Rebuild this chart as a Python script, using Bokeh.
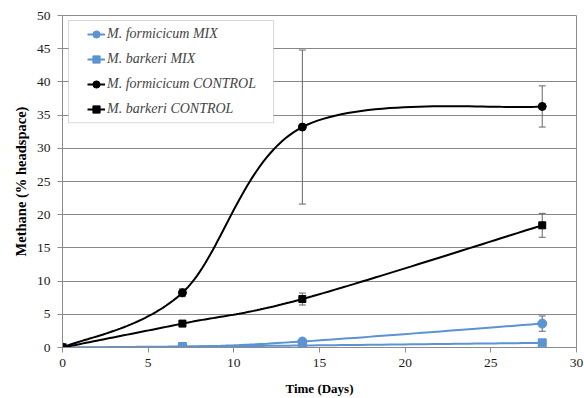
import numpy as np
from bokeh.plotting import figure
from bokeh.models import (ColumnDataSource, Whisker, TeeHead, SingleIntervalTicker,
                          Range1d, Legend, LegendItem, BoxAnnotation)
from bokeh.embed import file_html
from bokeh.resources import INLINE

days = [0, 7, 14, 28]
series_names = ["M. formicicum MIX", "M. barkeri MIX",
                "M. formicicum CONTROL", "M. barkeri CONTROL"]
form_mix = [0.0, 0.1, 0.9, 3.6]
form_mix_err = [0.0, 0.0, 0.0, 1.15]
bark_mix = [0.0, 0.15, 0.3, 0.7]
bark_mix_err = [0.0, 0.0, 0.0, 0.0]
form_ctrl = [0.0, 8.25, 33.2, 36.3]
form_ctrl_err = [0.0, 0.6, 11.6, 3.1]
bark_ctrl = [0.0, 3.6, 7.3, 18.4]
bark_ctrl_err = [0.0, 0.2, 0.9, 1.8]

BLUE = "#5b93d3"
BLACK = "#000000"
FONT = "Liberation Serif"


def smooth(xs, ys, n=40):
    """Excel-like smoothed line (Catmull-Rom Bezier through the data points)."""
    pts = np.column_stack([xs, ys]).astype(float)
    out = [pts[0]]
    m = len(pts)
    for i in range(m - 1):
        p0 = pts[i - 1] if i > 0 else pts[i]
        p1 = pts[i]
        p2 = pts[i + 1]
        p3 = pts[i + 2] if i + 2 < m else pts[i + 1]
        c1 = p1 + (p2 - p0) / 6.0
        c2 = p2 - (p3 - p1) / 6.0
        t = np.linspace(0, 1, n)[1:, None]
        b = ((1 - t) ** 3) * p1 + 3 * ((1 - t) ** 2) * t * c1 + 3 * (1 - t) * t ** 2 * c2 + t ** 3 * p2
        out.extend(b)
    out = np.array(out)
    return out[:, 0], out[:, 1]


p = figure(width=584, height=398, output_backend="svg", toolbar_location=None,
           x_range=Range1d(0, 30), y_range=Range1d(0, 50),
           min_border_left=62, min_border_right=8, min_border_top=15, min_border_bottom=49)

p.outline_line_color = "#8c8c8c"
p.outline_line_width = 1
p.background_fill_color = "white"
p.border_fill_color = "white"

p.xgrid.grid_line_color = None
p.ygrid.grid_line_color = "#878787"
p.ygrid.grid_line_width = 1

for ax in (p.xaxis[0], p.yaxis[0]):
    ax.axis_line_color = "#8c8c8c"
    ax.major_tick_line_color = "#8c8c8c"
    ax.major_tick_out = 5
    ax.major_tick_in = 0
    ax.minor_tick_line_color = None
    ax.major_label_text_font = FONT
    ax.major_label_text_font_size = "13.5px"
    ax.major_label_text_color = "#1a1a1a"
    ax.axis_label_text_font = FONT
    ax.axis_label_text_font_size = "13px"
    ax.axis_label_text_font_style = "bold"
    ax.axis_label_text_color = "#000000"

p.yaxis.axis_label_text_font_size = "14.5px"
p.xaxis.ticker = SingleIntervalTicker(interval=5)
p.yaxis.ticker = SingleIntervalTicker(interval=5)
p.xaxis.axis_label = "Time (Days)"
p.yaxis.axis_label = "Methane (% headspace)"
p.xaxis.major_label_standoff = 6
p.yaxis.major_label_standoff = 7
p.xaxis.axis_label_standoff = 11
p.yaxis.axis_label_standoff = 5

# outer chart border (top and left edges of the chart area)
outer = BoxAnnotation(left=-49, right=700, bottom=-100, top=345,
                      left_units="screen", right_units="screen",
                      bottom_units="screen", top_units="screen",
                      fill_alpha=0, line_color="#b4b4b4", line_width=1)
p.add_layout(outer)

# legend box
legend_box = BoxAnnotation(left=0.35, right=12.32, top=49.25, bottom=33.85,
                           fill_color="white", fill_alpha=1.0,
                           line_color="#7f7f7f", line_width=1)
p.add_layout(legend_box)

data = [
    (form_mix, form_mix_err, BLUE, "circle", 9),
    (bark_mix, bark_mix_err, BLUE, "square", 8),
    (form_ctrl, form_ctrl_err, BLACK, "circle", 8),
    (bark_ctrl, bark_ctrl_err, BLACK, "square", 7),
]

items = []
for name, (vals, errs, col, mk, sz) in zip(series_names, data):
    sx, sy = smooth(days, vals)
    lr = p.line(sx, sy, line_color=col, line_width=2)
    src = ColumnDataSource(dict(x=days, y=vals))
    idx = [i for i, e in enumerate(errs) if e > 0]
    if idx:
        esrc = ColumnDataSource(dict(x=[days[i] for i in idx],
                                     lo=[vals[i] - errs[i] for i in idx],
                                     hi=[vals[i] + errs[i] for i in idx]))
        w = Whisker(source=esrc, base="x", upper="hi", lower="lo", dimension="height",
                    line_color="#666666", line_width=1,
                    upper_head=TeeHead(size=7, line_color="#666666", line_width=1),
                    lower_head=TeeHead(size=7, line_color="#666666", line_width=1))
        p.add_layout(w)
    sr = p.scatter("x", "y", source=src, marker=mk, size=sz, fill_color=col, line_color=col)
    items.append(LegendItem(label=name, renderers=[lr, sr]))

legend = Legend(items=items, location=(25, 228))
legend.margin = 0
legend.padding = 0
legend.spacing = 5
legend.label_height = 20
legend.glyph_height = 20
legend.glyph_width = 18
legend.label_standoff = 2
legend.label_text_font = FONT
legend.label_text_font_size = "14px"
legend.label_text_font_style = "italic"
legend.border_line_color = None
legend.background_fill_alpha = 0.0
p.add_layout(legend)

open("out.html", "w").write(file_html(p, INLINE))
